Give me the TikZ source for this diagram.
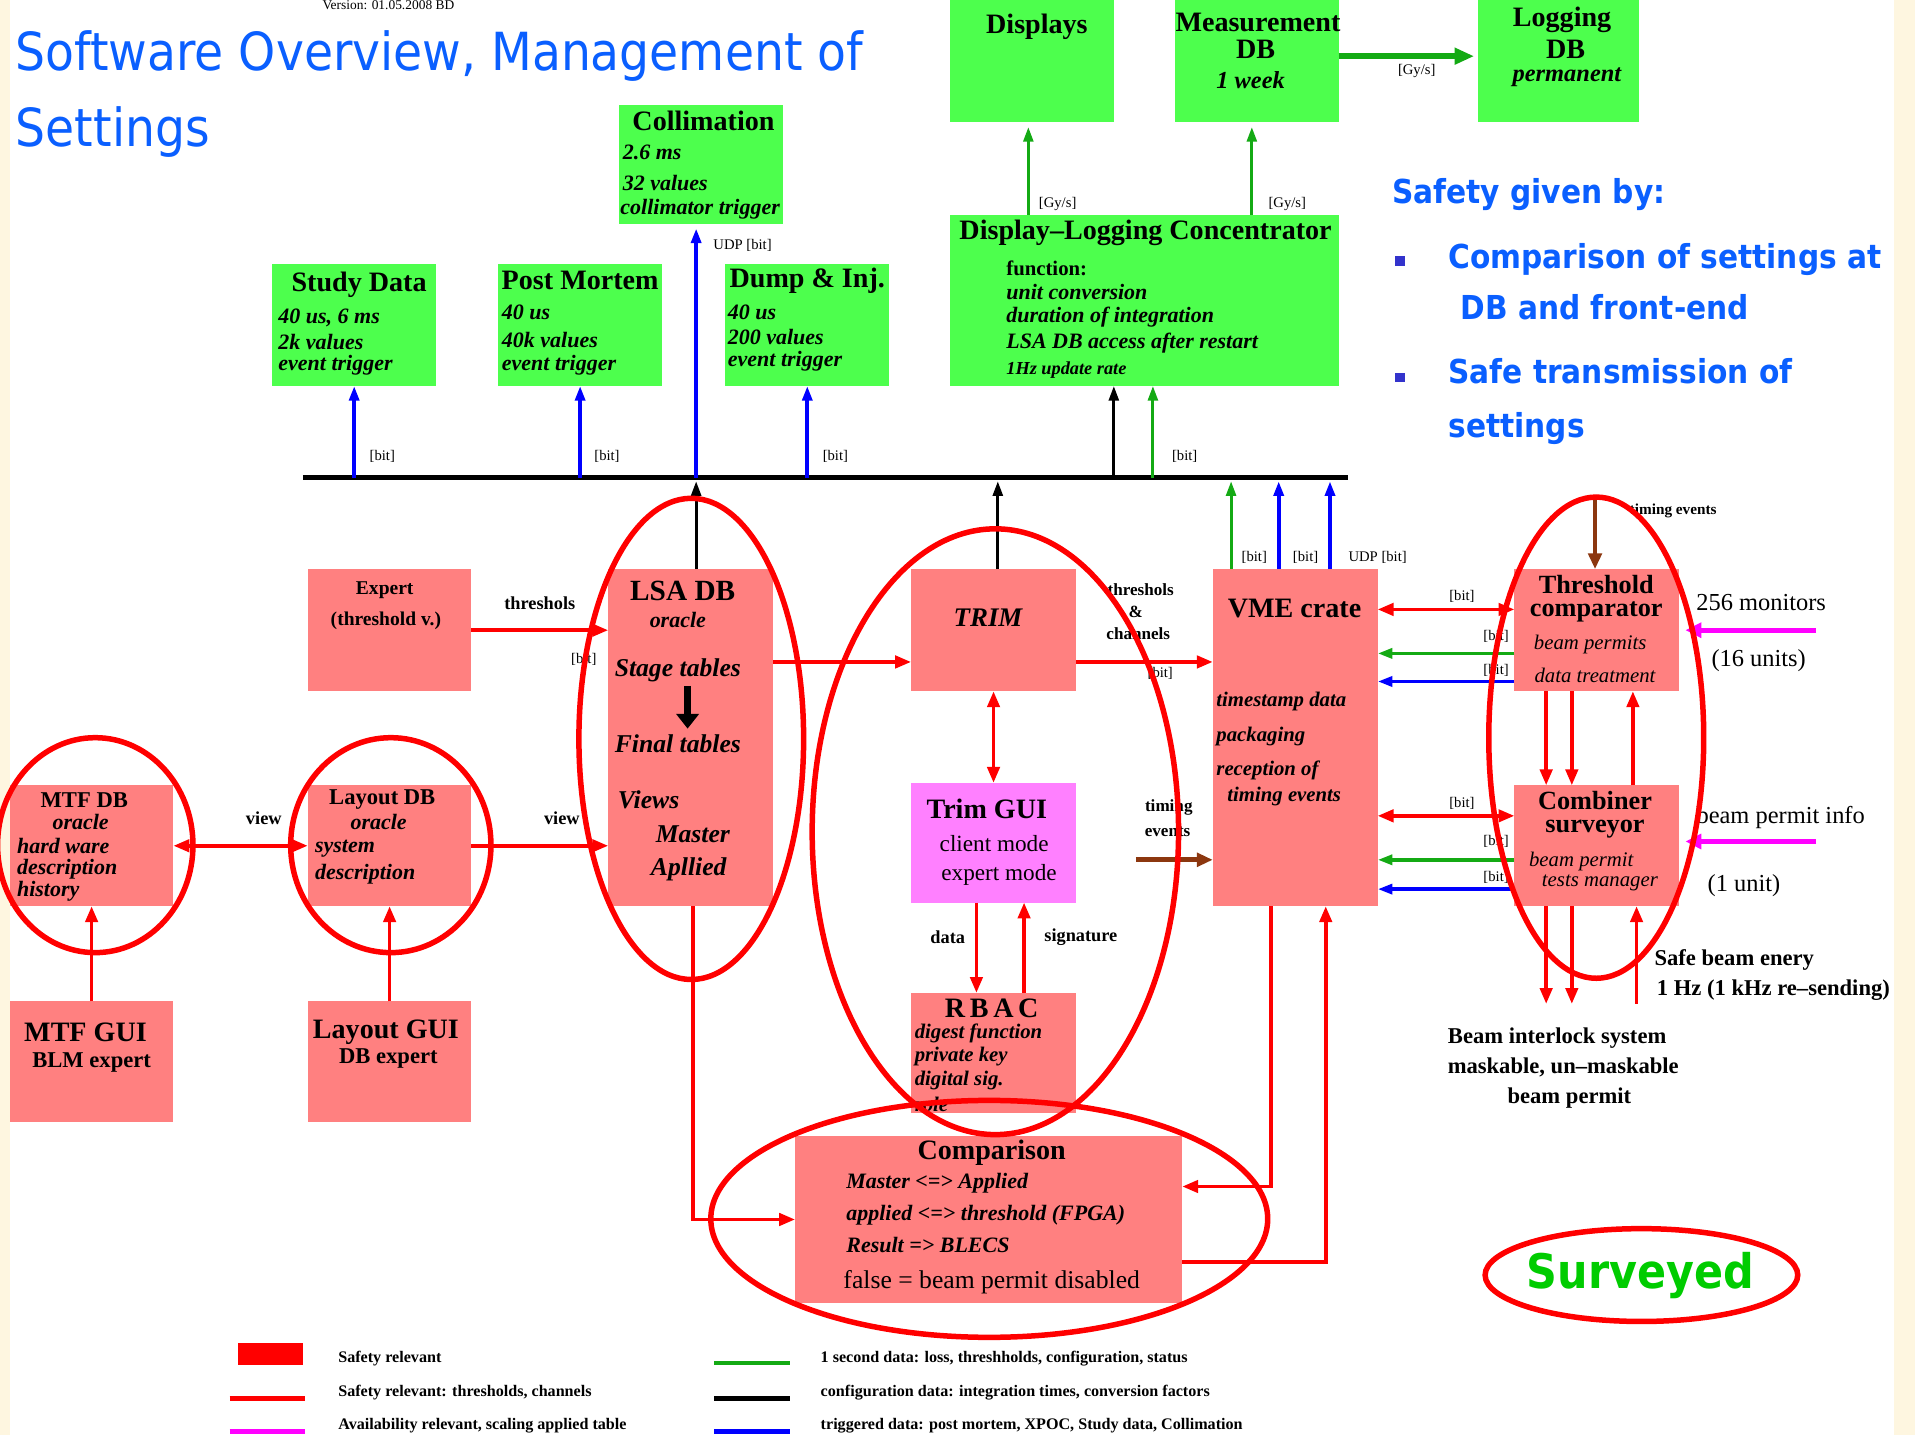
\documentclass[tikz,border=0pt]{standalone}
\usepackage{fontspec}
\setmainfont{Liberation Serif}
\newfontfamily\tahoma{DejaVu Sans Condensed}
\usetikzlibrary{arrows.meta}
\newcommand\fsz[1]{\fontsize{#1}{#1}\selectfont}
\definecolor{boxgreen}{RGB}{77,255,77}
\definecolor{boxpink}{RGB}{255,128,128}
\definecolor{boxmag}{RGB}{255,128,255}
\definecolor{lgreen}{RGB}{20,170,20}
\definecolor{brownarr}{RGB}{140,55,15}
\definecolor{titleblue}{RGB}{10,95,255}
\definecolor{bulletblue}{RGB}{51,51,204}
\definecolor{cream}{RGB}{254,246,224}
\definecolor{survgreen}{RGB}{0,204,0}
\definecolor{brightmag}{RGB}{255,0,255}
\begin{document}
\begin{tikzpicture}[x=1pt,y=-1pt,
  every node/.style={inner sep=0pt,outer sep=0pt},
  gbox/.style={fill=boxgreen,anchor=north west},
  pbox/.style={fill=boxpink,anchor=north west},
  mbox/.style={fill=boxmag,anchor=north west},
  ttl/.style={font=\fsz{23}\bfseries},
  ttlpair/.style={font=\fontsize{21.5}{19}\selectfont\bfseries,align=center},
  hsm/.style={font=\fsz{18.5}\bfseries},
  sub/.style={font=\fsz{18}\bfseries\itshape},
  subr/.style={font=\fsz{17}\itshape},
  lab/.style={font=\fsz{15}\bfseries},
  bitl/.style={font=\fsz{12}},
  note/.style={font=\fsz{20}},
  leg/.style={font=\fsz{13.2}\bfseries,anchor=west},
  bluebold/.style={font=\tahoma\fsz{27}\bfseries,text=titleblue,anchor=base west},
  hl/.style={draw=red,line width=4.5pt},
  arrowhd/.style={-{Triangle[length=13pt,width=10pt]}},
  rarr/.style={draw=red,line width=3pt,arrowhd},
  rdbl/.style={draw=red,line width=3pt,{Triangle[length=13pt,width=10pt]}-{Triangle[length=13pt,width=10pt]}},
  barr/.style={draw=blue,line width=3pt,-{Triangle[length=12pt,width=8pt]}},
  garr/.style={draw=lgreen,line width=2.5pt,-{Triangle[length=12pt,width=8pt]}},
  karr/.style={draw=black,line width=2.5pt,-{Triangle[length=12pt,width=8pt]}},
  brarr/.style={draw=brownarr,line width=4pt,-{Triangle[length=13pt,width=11pt]}},
  marr/.style={draw=brightmag,line width=4pt,-{Triangle[length=13pt,width=12pt]}},
]
\useasboundingbox (0,0) rectangle (1568,1175);
% page
\fill[white] (0,0) rectangle (1568,1175);
\fill[cream] (0,0) rectangle (8,1175);
\fill[cream] (1551,0) rectangle (1568,1175);

% heading and version
\node[font=\fsz{11}] (ver) at (318,4) {Version: 01.05.2008 BD};
\node[font=\tahoma\fsz{43},text=titleblue,anchor=base west] (title1) at (13,58) {Software Overview, Management of};
\node[font=\tahoma\fsz{43},text=titleblue,anchor=base west] (title2) at (13,120) {Settings};

% safety statement
\node[bluebold] (saf) at (1140,167) {Safety given by:};
\node[fill=bulletblue,minimum size=8pt] (bul1) at (1146,214) {};
\node[bluebold] (saf1) at (1186,220) {Comparison of settings at};
\node[bluebold] (saf2) at (1196,262) {DB and front-end};
\node[fill=bulletblue,minimum size=8pt] (bul2) at (1146,309) {};
\node[bluebold] (saf3) at (1186,314) {Safe transmission of};
\node[bluebold] (saf4) at (1186,358) {settings};

% ---------- green boxes ----------
\node[gbox,minimum width=134pt,minimum height=97pt] (coll) at (507,86) {};
\node[gbox,minimum width=134pt,minimum height=100pt] (study) at (223,216) {};
\node[gbox,minimum width=134pt,minimum height=100pt] (pm) at (408,216) {};
\node[gbox,minimum width=134pt,minimum height=100pt] (dump) at (594,216) {};
\node[gbox,minimum width=134pt,minimum height=100pt] (disp) at (778,0) {};
\node[gbox,minimum width=134pt,minimum height=100pt] (meas) at (962,0) {};
\node[gbox,minimum width=132pt,minimum height=100pt] (logg) at (1210,0) {};
\node[gbox,minimum width=318pt,minimum height=140pt] (conc) at (778,176) {};

\node[ttl] (collT) at (576,99) {Collimation};
\node[sub,anchor=west] (coll1) at (510,125) {2.6 ms};
\node[sub,anchor=west] (coll2) at (510,150) {32 values};
\node[sub,anchor=west] (coll3) at (508,171) {collimator trigger};

\node[ttl] (studyT) at (294,233) {Study Data};
\node[sub,anchor=west] (study1) at (228,260) {40 us, 6 ms};
\node[sub,anchor=west] (study2) at (228,280) {2k values};
\node[sub,anchor=west] (study3) at (228,299) {event trigger};

\node[ttl] (pmT) at (475,230) {Post Mortem};
\node[sub,anchor=west] (pm1) at (411,256) {40 us};
\node[sub,anchor=west] (pm2) at (411,278) {40k values};
\node[sub,anchor=west] (pm3) at (411,299) {event trigger};

\node[ttl] (dumpT) at (661,230) {Dump \& Inj.};
\node[sub,anchor=west] (dump1) at (596,256) {40 us};
\node[sub,anchor=west] (dump2) at (596,276) {200 values};
\node[sub,anchor=west] (dump3) at (596,296) {event trigger};

\node[ttl] (dispT) at (849,22) {Displays};
\node[ttl] (measT) at (1030,18) {Measurement};
\node[ttl] (measD) at (1028,40) {DB};
\node[sub,font=\fsz{20}\bfseries\itshape] (measW) at (1024,66) {1 week};
\node[ttl] (loggT) at (1279,16) {Logging};
\node[ttl] (loggD) at (1282,40) {DB};
\node[sub,font=\fsz{20}\bfseries\itshape] (loggP) at (1283,63) {permanent};

\node[ttl] (concT) at (938,191) {Display--Logging Concentrator};
\node[font=\fsz{17}\bfseries,anchor=west] (conc0) at (824,220) {function:};
\node[sub,anchor=west] (conc1) at (824,239) {unit conversion};
\node[sub,anchor=west] (conc2) at (824,260) {duration of integration};
\node[sub,anchor=west] (conc3) at (824,281) {LSA DB access after restart};
\node[sub,font=\fsz{15}\bfseries\itshape,anchor=west] (conc4) at (824,303) {1Hz update rate};

% ---------- pink boxes ----------
\node[pbox,minimum width=134pt,minimum height=100pt] (expert) at (252,466) {};
\node[pbox,minimum width=135pt,minimum height=276pt] (lsa) at (498,466) {};
\node[pbox,minimum width=135pt,minimum height=100pt] (trim) at (746,466) {};
\node[pbox,minimum width=135pt,minimum height=276pt] (vme) at (993,466) {};
\node[pbox,minimum width=135pt,minimum height=100pt] (thr) at (1240,466) {};
\node[pbox,minimum width=135pt,minimum height=99pt] (comb) at (1240,643) {};
\node[pbox,minimum width=134pt,minimum height=99pt] (mtf) at (8,643) {};
\node[pbox,minimum width=134pt,minimum height=99pt] (lay) at (252,643) {};
\node[pbox,minimum width=134pt,minimum height=99pt] (mtfgui) at (8,820) {};
\node[pbox,minimum width=134pt,minimum height=99pt] (laygui) at (252,820) {};
\node[mbox,minimum width=135pt,minimum height=98pt] (trimgui) at (746,641) {};
\node[pbox,minimum width=135pt,minimum height=98pt] (rbac) at (746,813) {};
\node[pbox,minimum width=317pt,minimum height=137pt] (comp) at (651,930) {};

\node[font=\fsz{16}\bfseries] (expT) at (315,483) {Expert};
\node[font=\fsz{16}\bfseries] (exp1) at (316,508) {(threshold v.)};

\node[font=\fsz{24}\bfseries] (lsaT) at (559,484) {LSA DB};
\node[sub] (lsa1) at (555,508) {oracle};
\node[sub,font=\fsz{21}\bfseries\itshape] (stage) at (555,549) {Stage tables};
\node[sub,font=\fsz{21}\bfseries\itshape] (final) at (555,609) {Final tables};
\node[sub,font=\fsz{21}\bfseries\itshape,anchor=west] (views) at (506,655) {Views};
\node[sub,font=\fsz{21}\bfseries\itshape,anchor=west] (master) at (537,683) {Master};
\node[sub,font=\fsz{21}\bfseries\itshape,anchor=west] (applied) at (533,712) {Apllied};

\node[font=\fsz{22}\bfseries\itshape] (trimT) at (809,506) {TRIM};

\node[ttl] (vmeT) at (1060,498) {VME crate};
\node[sub,font=\fsz{17}\bfseries\itshape,anchor=west] (vme1) at (996,574) {timestamp data};
\node[sub,font=\fsz{17}\bfseries\itshape,anchor=west] (vme2) at (996,603) {packaging};
\node[sub,font=\fsz{17}\bfseries\itshape,anchor=west] (vme3) at (996,631) {reception of};
\node[sub,font=\fsz{17}\bfseries\itshape,anchor=west] (vme4) at (1005,652) {timing events};

\node[ttlpair] (thrT) at (1307,490) {Threshold\\comparator};
\node[subr] (thr1) at (1302,528) {beam permits};
\node[subr] (thr2) at (1306,553) {data treatment};

\node[ttlpair] (combT) at (1306,667) {Combiner\\surveyor};
\node[subr,anchor=west] (comb1) at (1252,705) {beam permit};
\node[subr] (comb2) at (1310,723) {tests manager};

\node[hsm] (mtfT) at (69,655) {MTF DB};
\node[sub] (mtf1) at (66,673) {oracle};
\node[sub,anchor=west] (mtf2) at (14,693) {hard ware};
\node[sub,anchor=west] (mtf3) at (14,712) {description};
\node[sub,anchor=west] (mtf4) at (14,730) {history};

\node[hsm] (layT) at (313,655) {Layout DB};
\node[sub] (lay1) at (310,673) {oracle};
\node[sub,anchor=west] (lay2) at (258,695) {system};
\node[sub,anchor=west] (lay3) at (258,716) {description};

\node[ttl] (mtfguiT) at (70,845) {MTF GUI};
\node[hsm] (mtfgui1) at (75,870) {BLM expert};
\node[ttl] (layguiT) at (316,845) {Layout GUI};
\node[hsm] (laygui1) at (318,867) {DB expert};

\node[ttl] (trimguiT) at (808,662) {Trim GUI};
\node[font=\fsz{19}] (trimgui1) at (814,691) {client mode};
\node[font=\fsz{19}] (trimgui2) at (818,716) {expert mode};

\node[ttl] (rbacT) at (812,826) {R\,B\,A\,C};
\node[sub,font=\fsz{17}\bfseries\itshape,anchor=west] (rbac1) at (749,846) {digest function};
\node[sub,font=\fsz{17}\bfseries\itshape,anchor=west] (rbac2) at (749,865) {private key};
\node[sub,font=\fsz{17}\bfseries\itshape,anchor=west] (rbac3) at (749,885) {digital sig.};
\node[sub,font=\fsz{17}\bfseries\itshape,anchor=west] (rbac4) at (749,904) {role};

\node[ttl] (compT) at (812,944) {Comparison};
\node[sub,anchor=west] (comp1) at (693,969) {Master <=> Applied};
\node[sub,anchor=west] (comp2) at (693,995) {applied <=> threshold (FPGA)};
\node[sub,anchor=west] (comp3) at (693,1019) {Result => BLECS};
\node[font=\fsz{21}] (comp4) at (812,1050) {false = beam permit disabled};

% ---------- helper positions ----------
\coordinate (busW) at (248,391);
\coordinate (busE) at (1104,391);
\coordinate (xc) at (570,0);
\coordinate (xt) at (817,0);
\coordinate (xk) at (912,0);
\coordinate (xg) at (944,0);
\coordinate (xv1) at (1008,0);
\coordinate (xv2) at (1047,0);
\coordinate (xv3) at (1089,0);
\coordinate (xd) at (842,0);
\coordinate (xm) at (1025,0);
\coordinate (yml) at (0,46);
\coordinate (yset) at (0,542);
\coordinate (yt1) at (0,499);
\coordinate (yt2) at (0,535);
\coordinate (yt3) at (0,558);
\coordinate (yc1) at (0,668);
\coordinate (yc2) at (0,704);
\coordinate (yc3) at (0,728);
\coordinate (xa) at (1266,0);
\coordinate (xb) at (1287,0);
\coordinate (xu) at (1337,0);
\coordinate (xu2) at (1340,0);
\coordinate (yout) at (0,822);
\coordinate (tev) at (1306,405);
\coordinate (tev2) at (930,704);
\coordinate (mon) at (1487,516);
\coordinate (bpi) at (1487,689);

% ---------- data bus ----------
\draw[line width=4.5pt] (busW) -- (busE);
\draw[barr] (study.south |- busW) -- (study.south);
\draw[barr] (pm.south |- busW) -- (pm.south);
\draw[barr] (dump.south |- busW) -- (dump.south);
\draw[barr] (xc |- busW) -- ([yshift=-4pt]xc |- coll.south);
\draw[karr] (xk |- busW) -- (xk |- conc.south);
\draw[garr] (xg |- busW) -- (xg |- conc.south);
\draw[karr,shorten >=3pt] (xc |- lsa.north) -- (xc |- busW);
\draw[karr,shorten >=3pt] (xt |- trim.north) -- (xt |- busW);
\draw[garr,shorten >=3pt] (xv1 |- vme.north) -- (xv1 |- busW);
\draw[barr,shorten >=3pt] (xv2 |- vme.north) -- (xv2 |- busW);
\draw[barr,shorten >=3pt] (xv3 |- vme.north) -- (xv3 |- busW);

\node[bitl] (b1) at (313,374) {[bit]};
\node[bitl] (b2) at (497,374) {[bit]};
\node[bitl] (b3) at (684,374) {[bit]};
\node[bitl] (b4) at (608,201) {UDP [bit]};
\node[bitl] (b5) at (970,374) {[bit]};
\node[bitl] (b6) at (1027,456) {[bit]};
\node[bitl] (b7) at (1069,456) {[bit]};
\node[bitl] (b8) at (1128,456) {UDP [bit]};

% ---------- logging chain ----------
\draw[garr,shorten >=4pt] (xd |- conc.north) -- (xd |- disp.south);
\draw[garr,shorten >=4pt] (xm |- conc.north) -- (xm |- meas.south);
\draw[draw=lgreen,line width=4.5pt,-{Triangle[length=16pt,width=13pt]}] (meas.east |- yml) -- ([xshift=-3pt]logg.west |- yml);
\node[bitl] (g1) at (866,167) {[Gy/s]};
\node[bitl] (g2) at (1054,167) {[Gy/s]};
\node[bitl] (g3) at (1160,58) {[Gy/s]};

% ---------- settings flow ----------
\draw[rarr] (expert.east) -- (lsa.west |- expert.east);
\node[lab] (thl1) at (442,494) {threshols};
\node[bitl] (b9) at (478,540) {[bit]};
\draw[rarr] (lsa.east |- yset) -- (trim.west |- yset);
\draw[rarr] (trim.east |- yset) -- (vme.west |- yset);
\node[lab,font=\fsz{14}\bfseries] (thl2) at (934,483) {threshols};
\node[lab,font=\fsz{14}\bfseries] (thl3) at (930,501) {\&};
\node[lab,font=\fsz{14}\bfseries] (thl4) at (932,519) {channels};
\node[bitl] (b10) at (950,551) {[bit]};
\draw[black,line width=6pt,-{Triangle[length=12pt,width=18pt]},shorten <=3pt,shorten >=5pt] (stage.south -| 563,0) -- (final.north -| 563,0);

\draw[rdbl] (trim.south) -- (trimgui.north);
\draw[rarr] ([xshift=-14pt]trimgui.south) -- ([xshift=-14pt]rbac.north);
\draw[rarr] ([xshift=25pt]rbac.north) -- ([xshift=25pt]trimgui.south);
\node[lab] (dat) at (776,767) {data};
\node[lab] (sig) at (885,767) {signature};

\draw[rdbl] (mtf.east) -- (lay.west);
\draw[rarr] (lay.east) -- (lsa.west |- lay.east);
\node[lab] (v1) at (216,670) {view};
\node[lab] (v2) at (460,670) {view};
\draw[rarr] (mtfgui.north) -- (mtf.south);
\draw[rarr] (laygui.north) -- (lay.south);

\draw[rarr] ([xshift=2pt]lsa.south) |- (comp.west);
\draw[rarr] ([xshift=-20pt]vme.south) |- ([yshift=27pt]comp.east);
\draw[rarr] ([yshift=-35pt]comp.east) -| ([xshift=25pt]vme.south);

\draw[brarr] (tev2) -- (vme.west |- tev2);
\node[lab,font=\fsz{14}\bfseries] (tim1) at (957,661) {timing};
\node[lab,font=\fsz{14}\bfseries] (tim2) at (956,681) {events};

% ---------- front-end links ----------
\draw[rdbl] (vme.east |- yt1) -- (thr.west |- yt1);
\draw[garr,line width=3pt] (thr.west |- yt2) -- (vme.east |- yt2);
\draw[barr] (thr.west |- yt3) -- (vme.east |- yt3);
\draw[rdbl] (vme.east |- yc1) -- (comb.west |- yc1);
\draw[garr,line width=3pt] (comb.west |- yc2) -- (vme.east |- yc2);
\draw[barr] (comb.west |- yc3) -- (vme.east |- yc3);
\node[bitl] (b11) at (1197,488) {[bit]};
\node[bitl] (b12) at (1225,521) {[bit]};
\node[bitl] (b13) at (1225,549) {[bit]};
\node[bitl] (b14) at (1197,658) {[bit]};
\node[bitl] (b15) at (1225,689) {[bit]};
\node[bitl] (b16) at (1225,718) {[bit]};

\draw[rarr] (xa |- thr.south) -- (xa |- comb.north);
\draw[rarr] (xb |- thr.south) -- (xb |- comb.north);
\draw[rarr] (xu |- comb.north) -- (xu |- thr.south);
\draw[rarr] (xa |- comb.south) -- (xa |- yout);
\draw[rarr] (xb |- comb.south) -- (xb |- yout);
\draw[rarr] (xu2 |- yout) -- (xu2 |- comb.south);

\draw[brarr] (tev) -- (tev |- thr.north);
\node[lab,font=\fsz{12.5}\bfseries] (tim3) at (1370,418) {timing events};
\draw[marr,shorten >=5pt] (mon) -- (thr.east |- mon);
\draw[marr,shorten >=5pt] (bpi) -- (comb.east |- bpi);
\node[note] (mon1) at (1442,493) {256 monitors};
\node[note] (mon2) at (1440,541) {(16 units)};
\node[note] (bpi1) at (1458,669) {beam permit info};
\node[note] (bpi2) at (1428,725) {(1 unit)};
\node[font=\fsz{18.5}\bfseries] (sbe1) at (1420,786) {Safe beam enery};
\node[font=\fsz{18.5}\bfseries] (sbe2) at (1452,811) {1 Hz (1 kHz re--sending)};
\node[font=\fsz{18.5}\bfseries] (bis1) at (1275,850) {Beam interlock system};
\node[font=\fsz{18.5}\bfseries] (bis2) at (1280,874) {maskable, un--maskable};
\node[font=\fsz{18.5}\bfseries] (bis3) at (1285,899) {beam permit};

% ---------- surveyed groups ----------
\draw[hl] (78,692) ellipse [x radius=80pt, y radius=88pt];
\draw[hl] (320,692) ellipse [x radius=82pt, y radius=88pt];
\draw[hl] (566,605) ellipse [x radius=92pt, y radius=197pt];
\draw[hl] (815,681) ellipse [x radius=150pt, y radius=248pt];
\draw[hl] (1307,604) ellipse [x radius=88pt, y radius=197pt];
\draw[hl] (810,998) ellipse [x radius=228pt, y radius=97pt];
\draw[hl] (1344,1044) ellipse [x radius=128pt, y radius=38pt];
\node[font=\tahoma\fsz{39}\bfseries,text=survgreen] (surv) at (1343,1044) {Surveyed};

% ---------- legend ----------
\fill[red] (195,1100) rectangle (248,1118);
\draw[red,line width=3.5pt] (188,1145) -- (250,1145);
\draw[brightmag,line width=3.5pt] (188,1172) -- (250,1172);
\draw[lgreen,line width=3.5pt] (585,1116) -- (647,1116);
\draw[black,line width=3.5pt] (585,1145) -- (647,1145);
\draw[blue,line width=3.5pt] (585,1172) -- (647,1172);
\node[leg] (l1) at (277,1112) {Safety relevant};
\node[leg] (l2) at (277,1140) {Safety relevant: thresholds, channels};
\node[leg] (l3) at (277,1167) {Availability relevant, scaling applied table};
\node[leg] (l4) at (672,1112) {1 second data: loss, threshholds, configuration, status};
\node[leg] (l5) at (672,1140) {configuration data: integration times, conversion factors};
\node[leg] (l6) at (672,1167) {triggered data: post mortem, XPOC, Study data, Collimation};
\end{tikzpicture}
\end{document}
